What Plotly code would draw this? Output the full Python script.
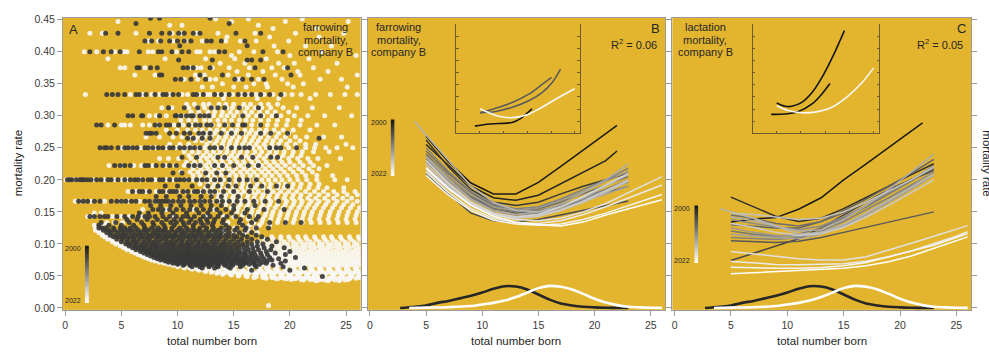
import plotly.graph_objects as go
from plotly.colors import sample_colorscale

W, H = 989, 353
BG = "#E3B52F"
FONT = "Liberation Sans"
TXT = "#262626"
AXC = "#9a9a9a"
INSET_C = "#6e5c2c"

YEAR0, YEAR1 = 2000, 2022
years = list(range(YEAR0, YEAR1 + 1))
year_scale = [[0.0, "#1a1a1a"], [1.0, "#ffffff"]]

# ---------------- Panel A: litter-level farrowing mortality ----------------
# rows of (mortality rate, [total number born ...]); early herd-years (dark)
dark_rows = [
    (0.452, [7.6, 8.4, 12.9]),
    (0.444, [6.3, 14.6]),
    (0.4286, [3.6, 4.7, 7.5, 8.6, 9.3, 10.1, 10.6, 11.4, 12.0, 15.2, 17.4]),
    (0.4167, [7.1, 7.7, 8.5, 9.3, 10.0, 10.6, 11.2, 12.6, 13.0, 13.9, 16.0]),
    (0.4091, [10.2, 16.2]),
    (0.40, [2.2, 3.4, 4.1, 4.9, 6.6, 8.3, 8.6, 9.5, 10.4, 11.0, 13.7, 14.2, 17.6, 19.4]),
    (0.3871, [10.1, 13.1, 16.2, 16.6, 17.4]),
    (0.375, [6.4, 6.6, 7.6, 8.2, 10.5, 10.9, 11.4, 12.9, 16.9, 19.8]),
    (0.3636, [8.4, 8.6, 12.0, 14.0, 20.1]),
    (0.3571, [9.8, 10.3, 11.2, 12.5, 15.1, 15.8, 16.6, 17.7]),
    (0.3333, [3.7, 4.2, 4.7, 5.3, 6.3, 6.6, 7.2, 8.0, 8.7, 9.0, 9.6, 10.1, 11.4, 11.7, 12.3,
              13.3, 13.9, 14.6, 15.4, 16.0, 16.6, 17.4, 18.2, 19.2]),
    (0.3125, [9.2, 10.6, 11.8, 13.0, 13.6, 14.2, 15.5, 17.2]),
    (0.30, [5.6, 6.0, 6.8, 6.9, 8.4, 9.8, 9.9, 10.3, 10.8, 11.2, 11.4, 12.0, 12.4, 12.8, 15.8,
            17.4, 18.8]),
    (0.2857, [2.8, 3.2, 4.4, 8.0, 8.4, 9.0, 9.3, 10.1, 11.0, 11.6, 12.0, 12.6, 13.0, 14.2, 14.9,
              15.8, 16.0, 17.4]),
    (0.2727, [7.2, 7.5, 7.7, 8.1, 9.3, 9.9, 10.6, 11.1, 11.9, 12.3, 12.9, 13.9, 14.8, 15.7, 17.4,
              18.3, 19.8]),
    (0.2647, [10.9, 11.4, 12.2, 12.9, 22.6]),
    (0.25, [3.1, 3.5, 3.7, 4.1, 4.7, 5.3, 5.6, 6.0, 6.4, 7.1, 7.4, 7.8, 8.3, 8.7, 9.3, 9.6, 10.2,
            10.6, 11.1, 11.5, 12.0, 12.9, 13.3, 13.9, 14.8, 15.5, 16.0, 16.4, 18.2, 18.8, 19.2, 20.6]),
    (0.2353, [10.4, 11.7, 13.6, 14.2, 15.7, 16.7, 18.3, 18.9]),
    (0.2222, [4.4, 4.9, 5.3, 5.8, 7.1, 7.4, 8.1, 8.7, 9.3, 9.9, 11.0, 11.5, 12.0, 13.3, 14.0, 15.0,
              16.3, 17.2]),
    (0.2105, [9.6, 10.4, 12.5, 13.5, 14.3]),
    (0.20, [0.2, 0.4, 0.6, 1.0, 1.3, 1.5, 1.7, 2.0, 2.3, 2.8, 3.2, 3.8, 4.1, 4.7, 5.3, 5.8, 6.2,
            6.5, 6.9, 7.4, 7.7, 8.4, 8.7, 9.3, 9.9, 10.2, 10.6, 11.0, 11.7, 12.2, 12.6, 13.3, 13.8,
            14.6, 15.5, 16.2, 17.0]),
    (0.1905, [8.9, 10.0, 11.3, 12.7, 13.6, 14.5, 15.2, 16.5, 17.5, 18.8, 19.8]),
    (0.1818, [6.0, 6.6, 6.9, 7.5, 8.4, 8.7, 9.3, 9.6, 9.9, 10.5, 10.9, 11.5, 11.8, 12.3, 12.9,
              13.3, 14.1, 15.0, 16.4, 18.0]),
    (0.1739, [8.1, 9.0, 10.2, 11.0, 12.1, 13.0, 13.9, 15.4]),
    (0.1667, [1.2, 1.6, 2.0, 2.6, 3.1, 4.1, 4.6, 5.0, 5.4, 5.9, 6.3, 7.1, 7.5, 8.0, 8.3, 8.6, 8.9,
              9.2, 9.6, 10.1, 10.5, 11.1, 11.5, 12.0, 12.4, 12.9, 13.5, 14.0, 14.6, 15.3, 16.0,
              16.8, 17.8, 19.0]),
    (0.16, [7.6, 8.5, 9.4, 10.3, 11.2, 12.1, 13.0, 13.9, 15.0, 16.9]),
    (0.1538, [7.8, 8.3, 8.7, 9.3, 9.9, 10.5, 11.1, 11.7, 12.3, 12.9, 13.5, 14.3, 15.0, 16.2, 17.7,
              19.5]),
    (0.1481, [6.6, 7.4, 8.6, 9.6, 10.8, 11.9, 12.7, 13.8, 14.8, 16.0]),
    (0.1429, [2.2, 2.6, 3.1, 3.5, 3.8, 4.6, 5.3, 6.0, 6.5, 7.1, 7.5, 8.0, 8.7, 9.3, 9.9, 10.5,
              10.9, 11.5, 12.3, 12.9, 13.6, 14.4, 15.2, 16.4, 17.2]),
    (0.1379, [5.5, 6.4, 7.3, 8.2, 9.0, 9.7, 10.3, 11.2, 12.0, 12.6, 13.3, 14.1, 15.6, 17.0]),
    (0.1333, [3.2, 4.5, 5.7, 6.8, 7.8, 8.6, 9.4, 9.9, 10.5, 11.0, 11.6, 12.1, 12.7, 13.2, 14.0,
              15.5, 16.6, 18.2, 19.6, 21.0]),
    (0.1290, [3.0, 3.9, 5.0, 6.1, 7.0, 7.9, 8.8, 9.7, 10.6, 11.4, 12.3, 13.1, 14.3, 15.8]),
    (0.125, [3.0, 3.3, 3.6, 4.3, 4.9, 5.3, 5.8, 6.3, 7.1, 7.7, 8.3, 8.9, 9.5, 10.2, 10.8, 11.4,
             12.0, 12.6, 13.2, 13.9, 14.6, 15.3, 16.1, 17.0, 18.1]),
    (0.1212, [3.4, 3.9, 4.4, 5.0, 5.5, 5.9, 6.5, 7.0, 7.4, 8.0, 8.5, 8.9, 9.5, 10.0, 10.4, 11.0,
              11.5, 11.9, 12.5, 13.1, 13.6, 14.3, 15.1, 16.0]),
    (0.1176, [3.7, 4.1, 4.7, 5.2, 5.7, 6.2, 6.7, 7.2, 7.8, 8.2, 8.7, 9.2, 9.8, 10.3, 10.7, 11.3,
              11.8, 12.2, 12.8, 13.4, 13.9, 14.6, 15.5, 16.6]),
    (0.1136, [4.0, 4.5, 5.0, 5.4, 6.0, 6.5, 6.9, 7.5, 8.0, 8.4, 9.0, 9.5, 9.9, 10.5, 11.0, 11.5,
              12.0, 12.6, 13.1, 13.7, 14.3, 15.0, 15.8, 17.0]),
    (0.1111, [4.3, 4.8, 5.3, 5.8, 6.2, 6.8, 7.3, 7.7, 8.3, 8.8, 9.3, 9.7, 10.2, 10.8, 11.3, 11.7,
              12.3, 12.8, 13.4, 13.9, 14.6, 15.3, 16.2, 17.5]),
    (0.1071, [4.6, 5.1, 5.6, 6.1, 6.6, 7.1, 7.5, 8.1, 8.6, 9.0, 9.6, 10.1, 10.5, 11.1, 11.6, 12.1,
              12.6, 13.2, 13.7, 14.3, 15.0, 15.7, 16.6, 18.0]),
    (0.1034, [5.0, 5.5, 6.0, 6.4, 7.0, 7.5, 7.9, 8.4, 9.0, 9.4, 9.9, 10.4, 10.9, 11.4, 11.9, 12.4,
              13.0, 13.5, 14.1, 14.7, 15.4, 16.2, 17.1, 18.8]),
    (0.10, [5.4, 5.8, 6.3, 6.8, 7.3, 7.8, 8.2, 8.8, 9.3, 9.7, 10.3, 10.8, 11.2, 11.8, 12.3, 12.7,
            13.3, 13.9, 14.4, 15.1, 15.8, 16.6, 17.6]),
    (0.0968, [5.7, 6.2, 6.7, 7.1, 7.7, 8.1, 8.6, 9.1, 9.6, 10.1, 10.6, 11.0, 11.6, 12.1, 12.6,
              13.1, 13.7, 14.2, 14.8, 15.5, 16.2, 17.1, 18.4]),
    (0.0938, [6.0, 6.5, 7.0, 7.5, 8.0, 8.4, 8.9, 9.4, 9.9, 10.4, 10.9, 11.4, 11.9, 12.4, 12.9,
              13.4, 14.0, 14.6, 15.2, 15.9, 16.7, 17.7, 19.5]),
    (0.0909, [6.3, 6.8, 7.3, 7.7, 8.2, 8.7, 9.2, 9.7, 10.2, 10.7, 11.1, 11.7, 12.2, 12.7, 13.2,
              13.7, 14.3, 14.9, 15.5, 16.3, 17.2, 18.3]),
    (0.0882, [6.7, 7.2, 7.6, 8.1, 8.6, 9.1, 9.5, 10.0, 10.5, 11.0, 11.5, 12.0, 12.5, 13.0, 13.5,
              14.1, 14.7, 15.3, 16.0, 16.8, 17.9, 20.0]),
    (0.0857, [7.0, 7.5, 7.9, 8.4, 8.9, 9.4, 9.9, 10.3, 10.8, 11.3, 11.8, 12.3, 12.8, 13.3, 13.9,
              14.4, 15.0, 15.7, 16.5, 17.4, 18.7]),
    (0.0833, [7.3, 7.8, 8.3, 8.7, 9.2, 9.7, 10.2, 10.7, 11.1, 11.6, 12.1, 12.6, 13.1, 13.7, 14.2,
              14.8, 15.4, 16.1, 16.9, 18.0, 19.6]),
    (0.0811, [7.6, 8.1, 8.6, 9.0, 9.5, 10.0, 10.5, 11.0, 11.5, 12.0, 12.5, 13.0, 13.5, 14.0, 14.6,
              15.2, 15.9, 16.6, 17.5]),
    (0.0789, [7.9, 8.4, 8.9, 9.4, 9.9, 10.3, 10.8, 11.3, 11.8, 12.3, 12.8, 13.3, 13.9, 14.4, 15.0,
              15.6, 16.3, 17.1, 18.2, 20.5]),
    (0.0769, [8.2, 8.7, 9.2, 9.7, 10.2, 10.7, 11.2, 11.7, 12.1, 12.6, 13.2, 13.7, 14.2, 14.8,
              15.4, 16.0, 16.8, 17.7, 19.0]),
    (0.075, [8.5, 9.0, 9.5, 10.0, 10.5, 11.0, 11.5, 12.0, 12.5, 13.0, 13.5, 14.0, 14.6, 15.2,
             15.8, 16.5, 17.3, 18.4]),
    (0.0732, [8.9, 9.4, 9.8, 10.3, 10.8, 11.3, 11.8, 12.3, 12.8, 13.3, 13.9, 14.4, 15.0, 15.6,
              16.2, 17.0, 18.0, 19.6]),
    (0.0714, [9.2, 9.7, 10.2, 10.7, 11.2, 11.6, 12.1, 12.6, 13.2, 13.7, 14.2, 14.8, 15.4, 16.0,
              16.7, 17.6]),
    (0.0698, [9.6, 10.1, 10.6, 11.1, 11.6, 12.0, 12.5, 13.0, 13.6, 14.1, 14.7, 15.3, 16.0, 16.8,
              17.9, 19.2]),
    (0.0682, [10.0, 10.6, 11.1, 11.6, 12.1, 12.6, 13.1, 13.7, 14.3, 14.9, 15.6, 16.4, 17.3]),
    (0.0667, [10.5, 11.1, 11.7, 12.3, 12.9, 13.5, 14.2, 14.9, 15.8, 16.9, 18.5]),
    (0.0645, [11.3, 12.0, 12.8, 13.6, 14.5, 15.6, 17.0, 19.4]),
    (0.0625, [12.2, 13.3, 14.7, 21.3]),
    (0.059, [16.6, 20.0]),
    (0.049, [22.9]),
]

# late herd-years (white)
white_rows = [
    (0.451, [13.4, 16.3, 21.1]),
    (0.447, [4.7, 14.8, 19.6, 25.2]),
    (0.441, [9.3, 10.4, 17.2]),
    (0.436, [18.5, 22.4]),
    (0.4286, [2.2, 3.3, 6.3, 9.5, 10.3, 11.7, 13.6, 16.9, 20.5, 24.8]),
    (0.423, [14.4, 18.2, 22.6]),
    (0.4167, [7.4, 8.3, 9.6, 10.7, 12.2, 14.3, 15.6, 17.0, 19.9]),
    (0.409, [18.6, 21.4, 23.7]),
    (0.40, [1.7, 2.8, 4.4, 5.2, 5.5, 7.4, 7.8, 9.9, 11.7, 12.0, 12.9, 13.3, 15.5, 16.8, 18.9, 22.8]),
    (0.394, [14.8, 20.0, 25.9]),
    (0.3889, [3.8, 8.9, 12.5, 15.1, 17.9, 21.7]),
    (0.382, [13.8, 16.0, 19.0, 20.4, 24.2]),
    (0.375, [4.9, 5.3, 7.1, 11.1, 11.7, 12.1, 13.1, 14.6, 16.4, 18.4, 19.5, 22.1]),
    (0.369, [15.3, 17.6, 20.7, 23.4]),
    (0.3636, [6.2, 8.0, 11.6, 12.4, 14.5, 16.3, 18.7, 20.9, 26.0]),
    (0.357, [10.6, 11.8, 12.9, 13.4, 15.2, 15.5, 17.2, 19.3, 22.7, 24.6]),
    (0.350, [14.0, 16.8, 17.9, 19.8, 21.2]),
    (0.345, [12.2, 13.1, 15.0, 16.1, 18.0, 20.3, 25.1]),
    (0.3333, [1.8, 5.8, 6.9, 7.7, 8.4, 9.3, 10.4, 10.9, 11.9, 12.6, 12.9, 13.6, 14.2, 14.9, 15.7,
              16.3, 17.0, 17.7, 18.5, 19.5, 20.2, 21.0, 22.3, 23.6, 24.9, 26.0]),
    (0.327, [14.1, 17.1, 19.0, 21.8]),
    (0.318, [10.8, 11.5, 12.3, 12.8, 13.7, 14.3, 15.0, 15.9, 16.5, 17.4, 18.1, 18.9]),
    (0.3125, [8.6, 9.5, 11.0, 11.8, 12.4, 13.1, 13.6, 14.4, 14.9, 15.6, 16.2, 16.9, 17.5, 18.3,
              19.4, 20.6, 22.0, 24.4]),
    (0.306, [11.2, 11.9, 12.7, 13.3, 14.0, 14.7, 15.3, 16.0, 16.6, 17.3, 18.0, 18.7, 19.9]),
    (0.30, [7.5, 8.1, 9.0, 10.1, 10.7, 11.5, 12.1, 12.6, 13.2, 13.9, 14.4, 15.0, 15.7, 16.3, 17.0,
            17.6, 18.4, 19.2, 20.4, 21.6, 23.1, 25.5]),
    (0.293, [10.3, 11.0, 11.6, 12.4, 12.9, 13.6, 14.2, 14.8, 15.5, 16.1, 16.7, 17.4, 18.1, 18.9,
             19.8, 21.0]),
    (0.2857, [3.8, 5.0, 5.3, 5.8, 6.9, 7.5, 8.2, 9.7, 10.5, 11.3, 11.9, 12.5, 13.1, 13.7, 14.3,
              14.9, 15.4, 16.0, 16.6, 17.3, 18.0, 18.8, 19.7, 20.9, 22.4, 24.0]),
    (0.2778, [9.0, 10.0, 10.9, 11.6, 12.2, 12.9, 13.5, 14.1, 14.8, 15.3, 16.0, 16.6, 17.3, 17.9,
              18.6, 19.4, 20.3, 21.8]),
    (0.2727, [12.0, 12.6, 13.3, 13.9, 14.5, 15.1, 15.8, 16.4, 17.0, 17.7, 18.3, 19.0, 19.9]),
    (0.2667, [7.2, 8.4, 9.6, 10.4, 11.2, 11.8, 12.4, 13.0, 13.7, 14.3, 14.9, 15.5, 16.1, 16.8,
              17.4, 18.1, 18.8, 19.6, 20.5, 21.5, 23.0, 24.6]),
    (0.2609, [11.6, 12.2, 12.9, 13.5, 14.1, 14.7, 15.3, 16.0, 16.6, 17.2, 17.9, 18.5, 19.2, 20.0,
              20.9]),
    (0.2553, [9.3, 10.2, 11.0, 12.6, 13.3, 14.0, 14.6, 15.2, 15.8, 16.4, 17.0, 17.7, 18.4, 19.0,
              19.7, 20.5, 21.4, 22.3, 25.0]),
    (0.25, [5.1, 5.9, 6.7, 7.6, 8.0, 9.0, 9.9, 10.4, 10.9, 11.4, 11.9, 12.4, 12.9, 13.5, 14.0,
            14.5, 15.1, 15.6, 16.2, 16.7, 17.3, 17.9, 18.5, 19.2, 19.9, 20.6, 21.4, 22.2, 23.2,
            24.2, 25.6]),
    (0.2439, [10.6, 11.3, 11.9, 12.6, 13.2, 13.8, 14.4, 15.0, 15.6, 16.2, 16.9, 17.5, 18.2, 18.8,
              19.5, 20.3, 21.1, 22.1, 23.5]),
    (0.2381, [11.0, 11.7, 12.3, 12.9, 13.5, 14.2, 14.8, 15.4, 16.1, 16.7, 17.3, 18.0, 18.7, 19.4,
              20.2, 21.0]),
    (0.2333, [8.4, 9.2, 10.1, 11.2, 12.0, 12.6, 13.2, 13.9, 14.5, 15.1, 15.8, 16.4, 17.0, 17.7,
              18.4, 19.1, 19.9, 20.7, 21.6, 22.5, 24.5]),
    (0.2273, [10.8, 11.5, 12.1, 12.8, 13.4, 14.0, 14.7, 15.3, 15.9, 16.6, 17.2, 17.9, 18.6, 19.3,
              20.0, 20.9, 21.8]),
    (0.2222, [3.9, 5.0, 6.1, 6.8, 7.8, 8.9, 9.8, 10.6, 11.2, 11.8, 12.5, 13.1, 13.7, 14.3, 15.0,
              15.6, 16.2, 16.9, 17.5, 18.2, 18.9, 19.6, 20.4, 21.2, 22.1, 23.3]),
    (0.2174, [11.4, 12.1, 12.7, 13.3, 14.0, 14.6, 15.2, 15.9, 16.5, 17.2, 17.8, 18.5, 19.2, 20.0,
              20.8, 21.7, 22.6]),
    (0.2121, [10.3, 11.1, 11.8, 12.4, 13.0, 13.7, 14.3, 14.9, 15.6, 16.2, 16.8, 17.5, 18.1, 18.8,
              19.5, 20.3, 21.1, 22.0]),
    (0.2069, [11.4, 12.0, 12.7, 13.3, 13.9, 14.6, 15.2, 15.8, 16.5, 17.1, 17.8, 18.4, 19.1, 19.8,
              20.6, 21.4, 22.4, 23.8]),
    (0.20, [0.1, 0.4, 0.7, 1.1, 2.5, 3.5, 4.4, 5.1, 5.5, 6.7, 8.0, 9.0, 9.6, 10.0, 10.8, 11.4,
            11.9, 12.4, 13.0, 13.5, 14.1, 14.6, 15.2, 15.8, 16.3, 16.9, 17.5, 18.1, 18.7, 19.3,
            20.0, 20.7, 21.5, 22.4, 24.0, 25.1]),
    (0.1935, [12.0, 12.7, 13.3, 13.9, 14.6, 15.2, 15.8, 16.4, 17.1, 17.7, 18.3, 19.0, 19.6, 20.3,
              21.0, 21.8, 22.6]),
    (0.1875, [12.5, 13.1, 13.8, 14.4, 15.0, 15.7, 16.3, 16.9, 17.6, 18.2, 18.9, 19.5, 20.2, 20.9,
              21.7, 22.5, 23.3, 24.8]),
    (0.1818, [5.6, 6.3, 7.2, 8.1, 9.1, 10.0, 10.7, 11.4, 12.1, 12.8, 13.4, 14.0, 14.7, 15.3, 15.9,
              16.6, 17.2, 17.9, 18.5, 19.2, 19.9, 20.6, 21.4, 22.2, 23.0, 23.9, 24.8, 25.8]),
    (0.1765, [13.0, 13.7, 14.3, 15.0, 15.6, 16.3, 16.9, 17.6, 18.2, 18.9, 19.6, 20.3, 21.0, 21.8,
              22.6, 23.4, 24.2, 25.1, 26.0]),
    (0.1714, [13.6, 14.2, 14.9, 15.5, 16.2, 16.8, 17.5, 18.1, 18.8, 19.5, 20.2, 20.9, 21.6, 22.3,
              23.1, 23.9, 24.7, 25.5]),
    (0.1667, [0.9, 1.4, 2.3, 3.5, 4.9, 5.6, 6.6, 8.0, 9.4, 10.3, 11.2, 12.1, 13.0, 13.7, 14.4,
              15.0, 15.7, 16.3, 17.0, 17.6, 18.3, 19.0, 19.7, 20.4, 21.1, 21.9, 22.6, 23.4, 24.2,
              25.1, 26.0]),
    (0.1613, [14.3, 15.0, 15.6, 16.3, 16.9, 17.6, 18.2, 18.9, 19.6, 20.3, 21.0, 21.7, 22.4, 23.2,
              24.0, 24.8, 25.6]),
    (0.1563, [14.8, 15.4, 16.1, 16.7, 17.4, 18.0, 18.7, 19.4, 20.1, 20.8, 21.5, 22.2, 23.0, 23.8,
              24.6, 25.4, 26.2]),
    (0.1538, [6.9, 9.0, 11.4, 13.3]),
    (0.15, [15.3, 15.9, 16.6, 17.2, 17.9, 18.5, 19.2, 19.9, 20.6, 21.3, 22.0, 22.8, 23.6, 24.4,
            25.2, 26.0]),
    (0.1481, [2.6, 3.2]),
    (0.1446, [15.8, 16.5, 17.1, 17.8, 18.4, 19.1, 19.8, 20.5, 21.2, 21.9, 22.7, 23.5, 24.3, 25.1,
              25.9]),
    (0.1429, [2.0, 2.4, 4.2, 5.0, 5.7, 6.8, 9.6, 12.6, 14.1, 15.0]),
    (0.1389, [16.3, 17.0, 17.6, 18.3, 19.0, 19.7, 20.4, 21.1, 21.8, 22.6, 23.4, 24.2, 25.0, 25.8]),
    (0.1333, [3.7, 4.4, 5.1, 14.5, 15.6, 16.8, 17.5, 18.2, 18.9, 19.6, 20.3, 21.1, 21.9, 22.7,
              23.5, 24.3, 25.1, 25.9]),
    (0.129, [2.6, 3.4, 16.4, 17.3, 18.2]),
    (0.125, [2.7, 15.1, 16.0, 16.9]),
    (0.1212, [2.7, 3.0, 14.2, 15.2, 16.3]),
    (0.1176, [3.0, 3.3, 13.1, 14.0, 15.0, 16.0, 17.1]),
    (0.1136, [3.3, 3.6]),
    (0.1111, [3.5, 3.9, 18.4, 19.2, 19.9, 20.7, 21.4, 22.2, 23.0, 23.7, 24.5, 25.3, 26.1]),
    (0.1071, [3.8, 4.2, 17.7, 18.5, 19.2, 20.0, 20.8, 21.5, 22.3, 23.1, 23.8, 24.6, 25.4, 26.2]),
    (0.1034, [4.2, 4.6, 17.2, 18.0, 18.7, 19.5, 20.3, 21.0, 21.8, 22.6, 23.3, 24.1, 24.9, 25.7]),
    (0.10, [4.5, 4.9, 16.8, 17.6, 18.3, 19.1, 19.8, 20.6, 21.4, 22.1, 22.9, 23.7, 24.4, 25.2,
            26.0]),
    (0.0968, [4.9, 5.3, 16.5, 17.3, 18.0, 18.8, 19.5, 20.3, 21.1, 21.8, 22.6, 23.4, 24.1, 24.9,
              25.7]),
    (0.0938, [5.2, 5.6, 16.0, 16.9, 17.6, 18.4, 19.1, 19.9, 20.7, 21.4, 22.2, 23.0, 23.7, 24.5,
              25.3, 26.1]),
    (0.0909, [5.5, 5.9, 15.8, 16.6, 17.3, 18.1, 18.8, 19.6, 20.4, 21.1, 21.9, 22.7, 23.4, 24.2,
              25.0, 25.8]),
    (0.0882, [5.9, 6.3, 15.5, 16.3, 17.0, 17.8, 18.5, 19.3, 20.1, 20.8, 21.6, 22.4, 23.1, 23.9,
              24.7, 25.5, 26.2]),
    (0.0857, [6.2, 6.6, 15.2, 16.0, 16.7, 17.5, 18.2, 19.0, 19.8, 20.5, 21.3, 22.1, 22.8, 23.6,
              24.4, 25.2, 26.0]),
    (0.0833, [6.5, 6.9, 14.9, 15.7, 16.4, 17.2, 17.9, 18.7, 19.5, 20.2, 21.0, 21.8, 22.5, 23.3,
              24.1, 24.9, 25.7]),
    (0.0811, [6.8, 7.2, 14.6, 15.4, 16.1, 16.9, 17.6, 18.4, 19.2, 19.9, 20.7, 21.5, 22.2, 23.0,
              23.8, 24.6, 25.4, 26.2]),
    (0.0789, [7.1, 7.5, 14.3, 15.1, 15.8, 16.6, 17.3, 18.1, 18.9, 19.6, 20.4, 21.2, 21.9, 22.7,
              23.5, 24.3, 25.1, 25.9]),
    (0.0769, [7.4, 7.8, 14.0, 14.8, 15.5, 16.3, 17.0, 17.8, 18.6, 19.3, 20.1, 20.9, 21.6, 22.4,
              23.2, 24.0, 24.8, 25.6]),
    (0.075, [7.7, 8.1, 13.7, 14.5, 15.2, 16.0, 16.7, 17.5, 18.3, 19.0, 19.8, 20.6, 21.3, 22.1,
             22.9, 23.7, 24.5, 25.3, 26.1]),
    (0.0732, [8.0, 8.4, 13.4, 14.2, 14.9, 15.7, 16.4, 17.2, 18.0, 18.7, 19.5, 20.3, 21.0, 21.8,
              22.6, 23.4, 24.2, 25.0, 25.8]),
    (0.0714, [8.4, 8.8, 13.1, 13.9, 14.6, 15.4, 16.1, 16.9, 17.7, 18.4, 19.2, 20.0, 20.7, 21.5,
              22.3, 23.1, 23.9, 24.7, 25.5, 26.2]),
    (0.0698, [8.8, 9.2, 12.8, 13.6, 14.3, 15.1, 15.8, 16.6, 17.4, 18.1, 18.9, 19.7, 20.4, 21.2,
              22.0, 22.8, 23.6, 24.4, 25.2, 26.0]),
    (0.0682, [9.2, 9.6, 12.5, 13.3, 14.0, 14.8, 15.5, 16.3, 17.1, 17.8, 18.6, 19.4, 20.1, 20.9,
              21.7, 22.5, 23.3, 24.1, 24.9, 25.7]),
    (0.0667, [9.6, 10.0, 10.4, 12.2, 13.0, 13.7, 14.5, 15.2, 16.0, 16.8, 17.5, 18.3, 19.1, 19.8,
              20.6, 21.4, 22.2, 23.0, 23.8, 24.6, 25.4, 26.2]),
    (0.0645, [10.0, 10.5, 11.0, 11.5, 12.1, 12.8, 13.5, 14.2, 15.0, 15.7, 16.5, 17.3, 18.0, 18.8,
              19.6, 20.3, 21.1, 21.9, 22.7, 23.5, 24.3, 25.1, 25.9]),
    (0.0625, [10.6, 11.1, 11.6, 12.0, 12.7, 13.4, 14.1, 14.9, 15.6, 16.4, 17.2, 17.9, 18.7, 19.5,
              20.2, 21.0, 21.8, 22.6, 23.4, 24.2, 25.0, 25.8]),
    (0.0606, [11.3, 11.8, 12.3, 12.9, 13.6, 14.3, 15.0, 15.7, 16.5, 17.3, 18.0, 18.8, 19.6, 20.3,
              21.1, 21.9, 22.7, 23.5, 24.3, 25.1, 25.9]),
    (0.0588, [11.9, 12.4, 13.0, 13.7, 14.4, 15.1, 15.8, 16.6, 17.4, 18.1, 18.9, 19.7, 20.4, 21.2,
              22.0, 22.8, 23.6, 24.4, 25.2, 26.0]),
    (0.0571, [12.5, 13.1, 13.8, 14.5, 15.2, 16.0, 16.7, 17.5, 18.3, 19.0, 19.8, 20.6, 21.3, 22.1,
              22.9, 23.7, 24.5, 25.3, 26.1]),
    (0.0556, [13.0, 13.6, 14.3, 15.0, 15.7, 16.4, 17.2, 18.0, 18.7, 19.5, 20.3, 21.0, 21.8, 22.6,
              23.4, 24.2, 25.0, 25.8]),
    (0.0541, [13.5, 14.1, 14.8, 15.5, 16.3, 17.0, 17.8, 18.6, 19.3, 20.1, 20.9, 21.6, 22.4, 23.2,
              24.0, 24.8, 25.6]),
    (0.0526, [14.0, 14.7, 15.4, 16.1, 16.9, 17.6, 18.4, 19.2, 19.9, 20.7, 21.5, 22.2, 23.0, 23.8,
              24.6, 25.4, 26.2]),
    (0.0513, [14.8, 15.5, 16.2, 17.0, 17.7, 18.5, 19.3, 20.0, 20.8, 21.6, 22.3, 23.1, 23.9, 24.7,
              25.5]),
    (0.05, [15.4, 16.1, 16.9, 17.6, 18.4, 19.2, 19.9, 20.7, 21.5, 22.2, 23.0, 23.8, 24.6, 25.4,
            26.1]),
    (0.0488, [16.2, 17.0, 17.8, 18.5, 19.3, 20.1, 20.8, 21.6, 22.4, 23.1, 23.9, 24.7, 25.5]),
    (0.0476, [16.8, 17.6, 18.4, 19.2, 19.9, 20.7, 21.5, 22.2, 23.0, 23.8, 24.6, 25.4, 26.2]),
    (0.0465, [17.9, 18.7, 19.5, 20.3, 21.1, 21.9, 22.7, 23.5, 24.3, 25.1, 25.9]),
    (0.0455, [18.9, 19.7, 20.5, 21.3, 22.1, 22.9, 23.7, 24.5, 25.3]),
    (0.0444, [20.1, 21.0, 21.8, 22.7, 23.5, 24.4, 25.2]),
    (0.0435, [21.2, 22.2, 23.1, 24.0, 24.9]),
    (0.0425, [22.4, 23.4, 24.4]),
    (0.004, [18.1]),
]

# ---------------- Panels B and C: yearly smoothed curves ----------------
grid_x = [4, 5, 7, 9, 11, 13, 15, 17, 19, 21, 22, 23, 25, 26]
N = None

farrow_curves = [
    (2000, [N, .268, .228, .195, .178, .178, .196, .221, .246, .272, .285, N, N, N]),
    (2001, [N, .255, .222, .190, .172, .168, .176, .194, .212, .230, .245, N, N, N]),
    (2003, [N, .262, .220, .185, .165, .160, .165, .178, .190, .200, N, .210, N, N]),
    (2005, [N, .210, .178, .148, .136, .134, .138, .145, .152, .160, N, .167, N, N]),
    (2006, [N, .240, .205, .175, .155, .148, .150, .158, .168, .180, N, .190, N, N]),
    (2008, [N, .245, .210, .180, .160, .152, .155, .165, .178, .192, N, .205, N, N]),
    (2009, [N, .232, .200, .172, .155, .150, .152, .160, .172, .185, N, .200, N, N]),
    (2010, [N, .250, .213, .182, .162, .155, .158, .170, .185, .200, N, .218, N, N]),
    (2011, [N, .228, .198, .170, .152, .145, .148, .158, .170, .184, N, .196, N, N]),
    (2012, [N, .238, .205, .176, .158, .152, .156, .168, .182, .198, N, .213, N, N]),
    (2013, [N, .220, .190, .164, .148, .142, .145, .155, .166, .178, N, .190, N, N]),
    (2014, [N, .235, .200, .170, .152, .146, .150, .162, .180, .200, N, .225, N, N]),
    (2015, [.291, .270, .230, .190, .165, .152, .150, .158, .172, .190, N, .208, N, N]),
    (2016, [N, .225, .192, .165, .148, .141, .143, .152, .165, .180, N, .198, N, N]),
    (2017, [N, .215, .185, .160, .145, .140, .143, .153, .167, .183, N, .200, N, N]),
    (2018, [N, .230, .195, .165, .148, .142, .146, .158, .174, .192, N, .210, N, N]),
    (2019, [N, .220, .188, .162, .146, .138, .136, .140, .150, .163, N, .180, .197, .205]),
    (2020, [N, .212, .180, .155, .140, .133, .132, .136, .146, .158, N, .172, .185, .192]),
    (2021, [N, .207, .176, .152, .137, .131, .129, .131, .138, .148, N, .160, .172, .177]),
    (2022, [N, .218, .186, .160, .143, .134, .130, .128, .134, .145, N, .155, .164, .169]),
]

lact_curves = [
    (2000, [N, .134, .139, .141, .154, .172, .200, .225, .251, .276, .289, N, N, N]),
    (2002, [N, .173, .158, .143, .135, .140, .155, .172, .190, .208, N, .225, N, N]),
    (2004, [N, .074, .085, .096, .108, .125, .145, .165, .185, .200, N, .215, N, N]),
    (2006, [N, .105, .103, .102, .104, .110, .118, .126, .134, .142, N, .150, N, N]),
    (2007, [N, .130, .128, .125, .125, .135, .152, .170, .190, .210, N, .232, N, N]),
    (2008, [N, .145, .140, .132, .128, .135, .148, .165, .183, .200, N, .218, N, N]),
    (2009, [N, .120, .115, .112, .115, .125, .140, .158, .178, .198, N, .220, N, N]),
    (2010, [N, .110, .108, .107, .110, .120, .135, .153, .172, .192, N, .212, N, N]),
    (2011, [N, .138, .132, .126, .122, .128, .142, .160, .180, .200, N, .222, N, N]),
    (2012, [N, .125, .118, .113, .112, .118, .130, .148, .168, .190, N, .213, N, N]),
    (2013, [N, .115, .112, .110, .108, .115, .128, .145, .165, .185, N, .207, N, N]),
    (2014, [N, .142, .136, .128, .120, .122, .138, .160, .185, .212, N, .240, N, N]),
    (2015, [.155, .150, .140, .128, .115, .118, .130, .148, .168, .188, N, .208, N, N]),
    (2016, [N, .148, .146, .142, .138, .140, .150, .165, .182, .200, N, .220, N, N]),
    (2017, [N, .132, .126, .118, .113, .116, .126, .142, .160, .180, N, .200, N, N]),
    (2019, [N, .088, .084, .080, .077, .075, .075, .080, .090, .101, N, .112, .123, .1285]),
    (2020, [N, .0727, .070, .068, .0675, .0677, .069, .073, .080, .089, N, .100, .112, .119]),
    (2021, [N, .0635, .0625, .062, .062, .063, .066, .071, .080, .089, N, .098, .110, .116]),
    (2022, [N, .0533, .055, .057, .058, .060, .062, .066, .072, .081, N, .093, .105, .111]),
]

# litter-size distributions (scaled density) of the first and last year
dens_early_x = [2.7, 4, 5, 6, 7, 8, 9, 10, 11, 12, 13, 14, 15, 16, 17, 18, 19, 20, 21, 22, 23]
dens_early_y = [0, .002, .004, .008, .011, .015, .019, .024, .030, .034, .0335, .029, .021,
                .013, .007, .004, .002, .001, .0004, .0001, 0]
dens_late_x = [3.5, 5, 7, 9, 10, 11, 12, 13, 14, 15, 16, 17, 18, 19, 20, 21, 22, 23, 24, 25, 26]
dens_late_y = [0, .0005, .0012, .003, .0055, .008, .0115, .017, .024, .031, .0345, .033, .029,
               .022, .0145, .0085, .0045, .002, .001, .0003, .0001]

# ---------------- inset curves ----------------
inset_b = [
    ("#141414", [8.93, 11.53, 14.0, 16.8, 18.55, 19.96, 21.0], [0.59, 0.75, 0.81, 0.89, 1.21, 1.67, 2.02]),
    ("#5a5a5a", [10.0, 13.3, 16.8, 20.3, 23.1, 25.1], [1.69, 2.07, 2.55, 3.23, 4.03, 4.62]),
    ("#5a5a5a", [10.0, 13.3, 16.8, 20.3, 23.1, 25.2, 27.0], [1.69, 1.80, 2.15, 2.69, 3.36, 4.17, 5.30]),
    ("#f8f8f8", [10.0, 11.9, 14.0, 16.8, 19.6, 23.1, 26.6, 30.0], [2.02, 1.69, 1.40, 1.29, 1.48, 2.15, 2.96, 3.68]),
]
inset_c = [
    ("#141414", [10.0, 11.75, 13.1, 15.2, 17.3, 19.3, 21.4, 23.1, 24.0], [2.5, 2.23, 2.23, 2.55, 3.36, 4.57, 6.18, 7.66, 8.47]),
    ("#141414", [8.86, 11.75, 14.5, 17.3, 19.3, 21.0], [1.56, 1.59, 1.80, 2.42, 3.23, 4.11]),
    ("#f8f8f8", [10.0, 12.4, 15.2, 17.9, 21.4, 24.8, 27.6, 30.0], [2.28, 1.88, 1.69, 1.75, 2.15, 3.09, 4.17, 5.38]),
]


def year_color(yr):
    return sample_colorscale(year_scale, (yr - YEAR0) / (YEAR1 - YEAR0))[0]


def flatten(rows):
    xs, ys = [], []
    for yv, xl in rows:
        xs.extend(xl)
        ys.extend([yv] * len(xl))
    return xs, ys


def px(xp):
    return xp / W


def py(yp):
    return 1 - yp / H


fig = go.Figure()

# panel A scatter
wx, wy = flatten(white_rows)
dx, dy = flatten(dark_rows)
fig.add_trace(go.Scatter(x=wx, y=wy, mode="markers", xaxis="x", yaxis="y",
                         marker=dict(size=5, color="rgba(248,247,244,0.9)", line=dict(width=0)),
                         showlegend=False, hoverinfo="skip"))
fig.add_trace(go.Scatter(x=dx, y=dy, mode="markers", xaxis="x", yaxis="y",
                         marker=dict(size=5, color="rgba(56,56,56,0.92)", line=dict(width=0)),
                         showlegend=False, hoverinfo="skip"))

# panels B and C
for curves, ax, ay in ((farrow_curves, "x2", "y2"), (lact_curves, "x3", "y3")):
    for yr, vals in curves:
        fig.add_trace(go.Scatter(x=grid_x, y=vals, mode="lines", xaxis=ax, yaxis=ay,
                                 connectgaps=True, line=dict(color=year_color(yr), width=1.5),
                                 showlegend=False, hoverinfo="skip"))
    fig.add_trace(go.Scatter(x=dens_early_x, y=dens_early_y, mode="lines", xaxis=ax, yaxis=ay,
                             line=dict(color="#262626", width=2.6, shape="spline"),
                             showlegend=False, hoverinfo="skip"))
    fig.add_trace(go.Scatter(x=dens_late_x, y=dens_late_y, mode="lines", xaxis=ax, yaxis=ay,
                             line=dict(color="#ffffff", width=2.6, shape="spline"),
                             showlegend=False, hoverinfo="skip"))

# insets
for curves, ax, ay in ((inset_b, "x4", "y4"), (inset_c, "x5", "y5")):
    for col, xs, ys in curves:
        fig.add_trace(go.Scatter(x=xs, y=ys, mode="lines", xaxis=ax, yaxis=ay,
                                 line=dict(color=col, width=1.6, shape="spline"),
                                 showlegend=False, hoverinfo="skip"))

# year colour bars
for ax, ay in (("x6", "y6"), ("x7", "y7"), ("x8", "y8")):
    fig.add_trace(go.Heatmap(z=[[yr] for yr in years], x=[0], y=years, xaxis=ax, yaxis=ay,
                             colorscale=year_scale, zmin=YEAR0, zmax=YEAR1, showscale=False,
                             hoverinfo="skip"))

tickfont = dict(family=FONT, size=10.5, color="#3a3a3a")
ytop = py(14)
ybot = py(313)

main_x = dict(range=[-0.2, 26.3], tickvals=[0, 5, 10, 15, 20, 25], showgrid=False, zeroline=False,
              showline=True, linecolor=AXC, linewidth=1, mirror=True, ticks="outside", ticklen=5,
              tickcolor=AXC, tickfont=tickfont)
main_y = dict(range=[-0.003, 0.453], tickvals=[i * 0.05 for i in range(10)], tickformat=".2f",
              showgrid=False, zeroline=False, showline=True, linecolor=AXC, linewidth=1,
              mirror="ticks", ticks="outside", ticklen=5, tickcolor=AXC, tickfont=tickfont)

layout = dict(width=W, height=H, margin=dict(l=0, r=0, t=0, b=0, pad=0),
              paper_bgcolor="white", plot_bgcolor=BG, showlegend=False,
              font=dict(family=FONT, color=TXT))

panels = [(62, 360), (367, 665), (672, 971)]
for i, (x0, x1) in enumerate(panels, start=1):
    sfx = "" if i == 1 else str(i)
    layout["xaxis" + sfx] = dict(main_x, domain=[px(x0), px(x1)], anchor="y" + sfx)
    layout["yaxis" + sfx] = dict(main_y, domain=[ybot, ytop], anchor="x" + sfx,
                                 showticklabels=(i == 1))

inset_axis = dict(showgrid=False, zeroline=False, showline=True, linecolor=INSET_C, linewidth=1,
                  ticks="inside", ticklen=2.5, tickcolor=INSET_C, showticklabels=False)
for sfx, (x0, x1), xr in (("4", (455.7, 579.3), 31.05), ("5", (752.3, 879.0), 31.17)):
    layout["xaxis" + sfx] = dict(inset_axis, domain=[px(x0), px(x1)], anchor="y" + sfx,
                                 range=[5, xr], tickvals=[5, 10, 15, 20, 25, 30], mirror=False)
    layout["yaxis" + sfx] = dict(inset_axis, domain=[py(132.3), py(20.7)], anchor="x" + sfx,
                                 range=[0, 9.0], tickvals=list(range(10)), mirror="ticks")

cbar_axis = dict(showgrid=False, zeroline=False, showline=False, ticks="", showticklabels=False)
cbars = [("6", (84, 88), (247, 306)), ("7", (390, 394), (118, 176)), ("8", (694, 698), (206, 265))]
for sfx, (x0, x1), (y0, y1) in cbars:
    layout["xaxis" + sfx] = dict(cbar_axis, domain=[px(x0), px(x1)], anchor="y" + sfx,
                                 range=[-0.5, 0.5])
    layout["yaxis" + sfx] = dict(cbar_axis, domain=[py(y1), py(y0)], anchor="x" + sfx,
                                 range=[YEAR1 + 0.5, YEAR0 - 0.5])

fig.update_layout(**layout)

ann = []


def text(s, xp, yp, size=11, xanchor="center", yanchor="middle", angle=0):
    ann.append(dict(text=s, x=px(xp), y=py(yp), xref="paper", yref="paper", showarrow=False,
                    xanchor=xanchor, yanchor=yanchor, textangle=angle,
                    font=dict(family=FONT, size=size, color=TXT)))


def block(lines, xc, y_first, step=12.6):
    for k, s in enumerate(lines):
        text(s, xc, y_first + k * step)


# panel letters and descriptions
text("A", 66, 26, size=13, xanchor="left")
block(["farrowing", "mortality,", "company B"], 325, 24)
block(["farrowing", "mortality,", "company B"], 398, 24)
text("B", 662, 25, size=13, xanchor="right")
text("R<sup>2</sup> = 0.06", 659, 41, xanchor="right")
block(["lactation", "mortality,", "company B"], 705, 24)
text("C", 968, 25, size=13, xanchor="right")
text("R<sup>2</sup> = 0.05", 965, 41, xanchor="right")

# colour bar labels
for (sfx, (x0, x1), (y0, y1)) in cbars:
    text("2000", x0 - 2, y0 + 3, size=7, xanchor="right")
    text("2022", x0 - 2, y1 - 3, size=7, xanchor="right")

# axis titles
for x0, x1 in panels:
    text("total number born", (x0 + x1) / 2, 345, size=11.5)
text("mortality rate", 17, 163, size=11.5, angle=-90)
text("mortality rate", 987, 163, size=11.5, angle=90)

fig.update_layout(annotations=ann)
fig.write_html("out.html")
